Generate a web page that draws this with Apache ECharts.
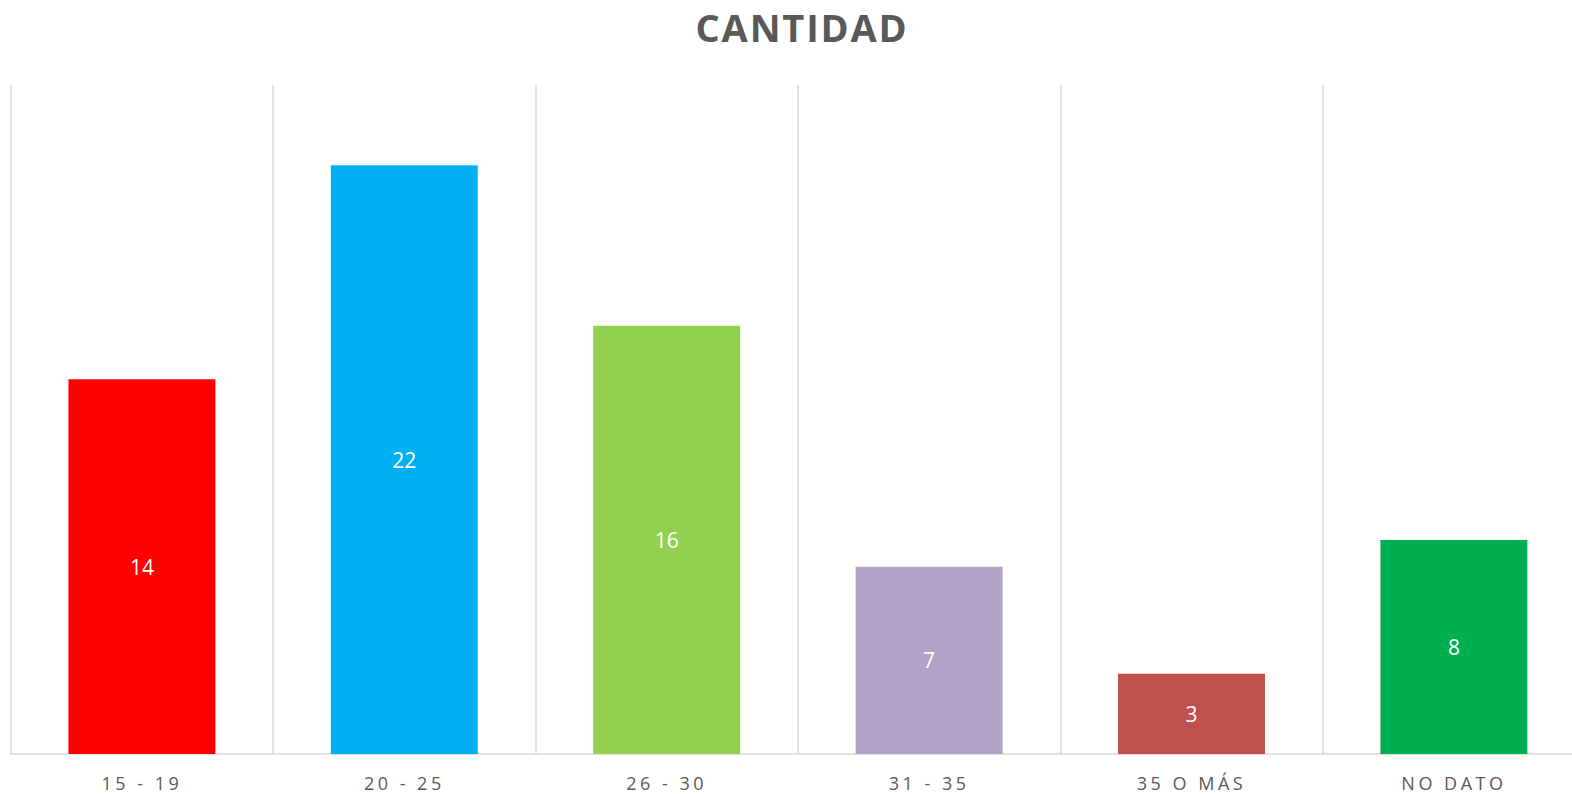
<!DOCTYPE html>
<html>
<head>
<meta charset="utf-8">
<script src="https://cdn.jsdelivr.net/npm/echarts@6/dist/echarts.min.js"></script>
<style>
html,body{margin:0;padding:0;background:#fff;}
#chart{width:1572px;height:794px;}
#chart text[style*="38px"]{letter-spacing:1.8px;}
#chart text[style*="18px"]{letter-spacing:3.5px;}
</style>
</head>
<body>
<div id="chart"></div>
<script>
const titleText = 'CANTIDAD';
const categories = ['15 - 19', '20 - 25', '26 - 30', '31 - 35', '35 O MÁS', 'NO DATO'];
const values = [14, 22, 16, 7, 3, 8];
const barColors = ['#FF0000', '#00B0F0', '#92D050', '#B3A2C7', '#C0504D', '#00B050'];

const chart = echarts.init(document.getElementById('chart'), null, {renderer: 'svg'});
chart.setOption({
  backgroundColor: '#ffffff',
  animation: false,
  title: {
    text: titleText,
    left: 797,
    top: 3,
    textAlign: 'center',
    textStyle: {fontFamily: 'Open Sans', fontWeight: 'bold', fontSize: 38, color: '#595959'}
  },
  grid: {left: 10.7, width: 1574.4, top: 85, bottom: 40, outerBoundsMode: 'none', containLabel: false},
  xAxis: {
    type: 'category',
    data: categories,
    axisLine: {lineStyle: {color: '#D9D9D9', width: 1.5}},
    axisTick: {show: false},
    splitLine: {show: true, lineStyle: {color: '#D9D9D9', width: 1.5}},
    axisLabel: {fontFamily: 'Open Sans', fontSize: 18, color: '#595959', margin: 20, interval: 0}
  },
  yAxis: {
    type: 'value',
    min: 0,
    max: 25,
    show: false,
    splitLine: {show: false}
  },
  series: [{
    type: 'bar',
    barWidth: '56%',
    data: values.map((v, i) => ({value: v, itemStyle: {color: barColors[i]}})),
    label: {show: true, position: 'inside', color: '#ffffff', fontFamily: 'Open Sans', fontSize: 21}
  }]
});
</script>
</body>
</html>
